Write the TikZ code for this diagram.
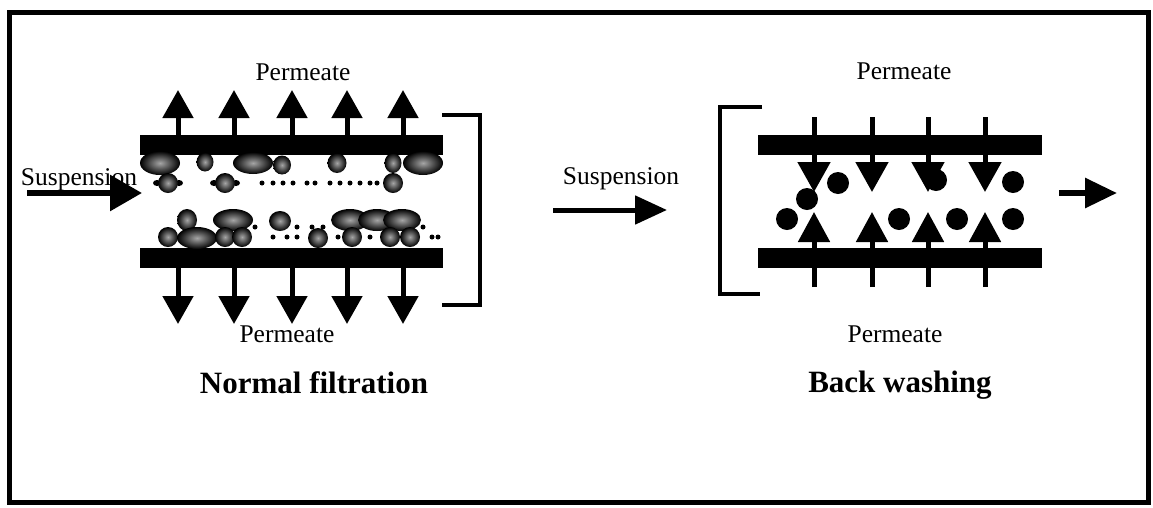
\documentclass[tikz,border=0pt]{standalone}
\usepackage{fontspec}
\setmainfont{Liberation Serif}
\usetikzlibrary{arrows.meta}

\begin{document}
\begin{tikzpicture}[x=1pt,y=-1pt,
membran/.style={fill=black},
nyil/.style={line width=5pt,-{Triangle[width=30pt,length=28pt]}},
reszecske/.style={inner color=black!35,outer color=black},
pont/.style={fill=black},
felirat/.style={font=\fontsize{25.5}{30}\selectfont,inner sep=0pt,anchor=base},
cim/.style={font=\bfseries\fontsize{31}{36}\selectfont,inner sep=0pt,anchor=base},
keret/.style={line width=4pt}]

\useasboundingbox (0,0) rectangle (1153,507);
\draw[line width=5pt] (9,12) rectangle (1148,502);

% normal filtration
\begin{scope}
\fill[membran] (140,135) rectangle (443,155);
\fill[membran] (140,248) rectangle (443,268);
\foreach \x in {178,234,292,347,403}{
  \draw[nyil] (\x,135)--(\x,90);
  \draw[nyil] (\x,268)--(\x,324);
}
\draw[keret] (442,115)-|(480,305)--(442,305);

\node[felirat](perm-bal-fent) at (303,80){Permeate};
\node[felirat](perm-bal-lent) at (287,342){Permeate};
\node[felirat](susp-bal) at (79,185){Suspension};
\draw[line width=6pt,-{Triangle[width=35pt,length=32pt]}] (27,193)--(142,193);

% lerakodott reszecskek
\foreach \x/\y/\a/\b in {160/163/20/12, 205/162/8.5/9.5, 253/163/20/11, 282/165/9/9.5,
  337/163/9.5/10, 393/163/8.5/10, 423/163/20/12, 393/183/10/10,
  187/220/10/11, 233/220/20/11, 280/221/11/10, 350/220/19/11, 377/220/19/11, 402/220/19/11,
  168/237/10/10, 197/238/20/11, 225/237/10/10, 242/237/10/10, 318/238/10/10,
  352/237/10/10, 390/237/10/10, 410/237/10/10}
  \shade[reszecske] (\x,\y) ellipse[x radius=\a pt,y radius=\b pt];
\foreach \x in {168,225}{
  \fill[pont] (\x-11,183) ellipse[x radius=4pt,y radius=3pt];
  \fill[pont] (\x+11,183) ellipse[x radius=4pt,y radius=3pt];
  \shade[reszecske] (\x,183) circle[radius=10pt];
}
\foreach \x in {262,273,283,293,307,315,330,340,350,360,370,377}
  \fill[pont] (\x,183) circle[radius=2.5pt];
\foreach \x/\y in {255/227,297/227,312/227,323/227,423/227,
  273/237,287/237,297/237,338/237,370/237,432/237,438/237}
  \fill[pont] (\x,\y) circle[radius=2.5pt];
\node[cim](normal) at (314,393){Normal filtration};
\end{scope}

% back washing
\begin{scope}
\node[felirat](susp-jobb) at (621,184){Suspension};
\draw[line width=5pt,-{Triangle[width=28pt,length=32pt]}] (553,210)--(667,210);

\draw[keret] (762,107)--(720,107)--(720,294)--(760,294);
\fill[membran] (758,135) rectangle (1042,155);
\fill[membran] (758,248) rectangle (1042,268);
\foreach \x in {814,872,928,985}{
  \draw[line width=5pt,-{Triangle[width=32pt,length=30pt]}] (\x,117)--(\x,192);
  \draw[line width=5pt,-{Triangle[width=31pt,length=30pt]}] (\x,287)--(\x,212);
}
\foreach \x/\y in {838/183,807/199,787/219,936/180,1013/182,899/219,957/219,1013/219}
  \fill[pont] (\x,\y) circle[radius=11pt];
\draw[line width=6pt,-{Triangle[width=29pt,length=32pt]}] (1059,193)--(1117,193);

\node[felirat](perm-jobb-fent) at (904,79){Permeate};
\node[felirat](perm-jobb-lent) at (895,342){Permeate};
\node[cim](back) at (900,392){Back washing};
\end{scope}

\end{tikzpicture}
\end{document}
